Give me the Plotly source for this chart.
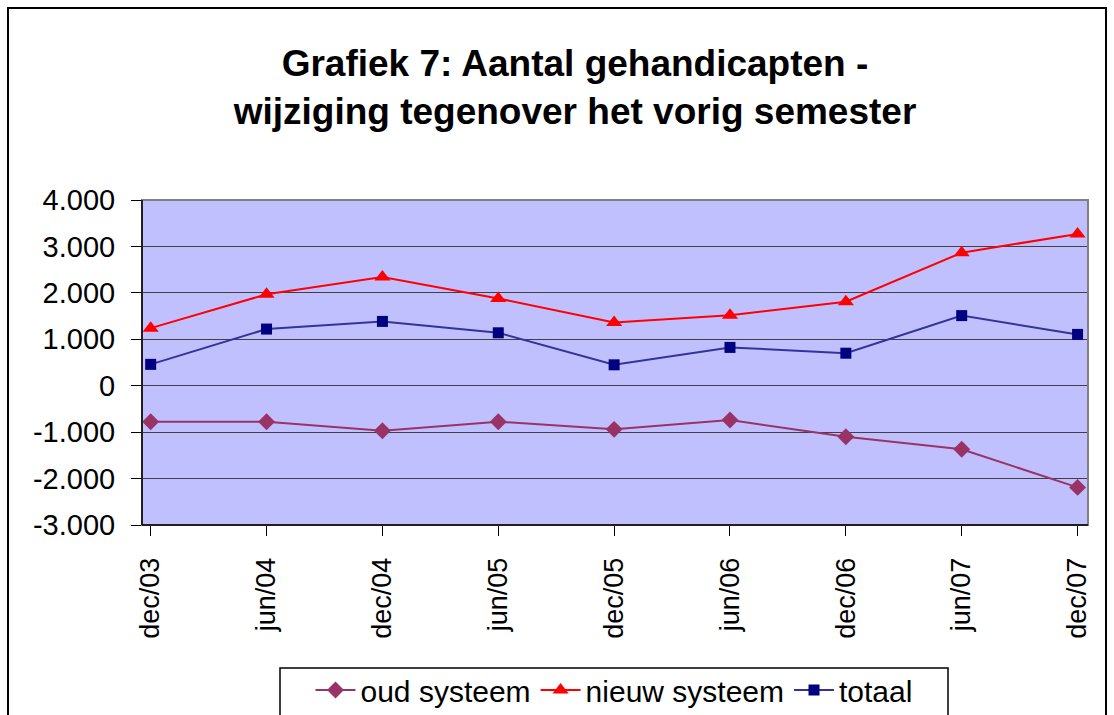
import plotly.graph_objects as go

categories = ["dec/03", "jun/04", "dec/04", "jun/05", "dec/05", "jun/06", "dec/06", "jun/07", "dec/07"]
oud_systeem = [-775, -775, -970, -775, -940, -740, -1100, -1370, -2190]
nieuw_systeem = [1240, 1970, 2340, 1880, 1360, 1520, 1810, 2865, 3270]
totaal = [460, 1220, 1385, 1140, 450, 825, 700, 1510, 1105]
y_ticks = [-3000, -2000, -1000, 0, 1000, 2000, 3000, 4000]
y_tick_labels = ["-3.000", "-2.000", "-1.000", "0", "1.000", "2.000", "3.000", "4.000"]

idx = list(range(len(categories)))

fig = go.Figure()
fig.add_trace(go.Scatter(x=idx, y=oud_systeem, name="oud systeem", mode="lines+markers",
                         line=dict(color="#993366", width=2),
                         marker=dict(symbol="diamond", size=13, color="#993366")))
fig.add_trace(go.Scatter(x=idx, y=nieuw_systeem, name="nieuw systeem", mode="lines+markers",
                         line=dict(color="#FF0000", width=2),
                         marker=dict(symbol="triangle-up", size=14, color="#FF0000")))
fig.add_trace(go.Scatter(x=idx, y=totaal, name="totaal", mode="lines+markers",
                         line=dict(color="#333399", width=2),
                         marker=dict(symbol="square", size=11, color="#000080")))

L, R, T, B = 142, 26, 200, 190
W, H = 1114, 715
pw, ph = W - L - R, H - T - B

fig.update_layout(
    width=W, height=H,
    margin=dict(l=L, r=R, t=T, b=B, pad=0),
    paper_bgcolor="white",
    plot_bgcolor="#C0C0FF",
    font=dict(family="Liberation Sans, Arial, sans-serif", color="black"),
    title=dict(text="<b>Grafiek 7: Aantal gehandicapten -<br>wijziging tegenover het vorig semester</b>",
               x=575 / W, xanchor="center", y=1 - 76 / H, yanchor="middle",
               font=dict(size=37, color="black")),
    showlegend=True,
    legend=dict(orientation="h", x=(614 - L) / pw, xanchor="center",
                yref="container", y=1 - 690 / H, yanchor="middle",
                borderwidth=0, bgcolor="rgba(0,0,0,0)",
                font=dict(size=30), itemwidth=40),
    xaxis=dict(range=[-0.075, 8.09], tickvals=idx, ticktext=categories,
               tickangle=-90, tickfont=dict(size=27),
               ticks="outside", ticklen=10, tickcolor="black",
               showgrid=False, zeroline=False, showline=False, automargin=False,
               ticklabelstandoff=11, fixedrange=True),
    yaxis=dict(range=[-3000, 4000], tickvals=y_ticks, ticktext=y_tick_labels,
               tickfont=dict(size=29),
               ticks="outside", ticklen=10, tickcolor="black",
               showgrid=True, gridcolor="#404040", gridwidth=1,
               zeroline=False, showline=False, automargin=False,
               ticklabelstandoff=10, fixedrange=True),
)

# plot area border (gray top/right) and black axes (left/bottom)
fig.add_shape(type="rect", xref="paper", yref="paper", x0=0, x1=1, y0=0, y1=1,
              line=dict(color="#808080", width=2), layer="above")
fig.add_shape(type="line", xref="paper", yref="paper", x0=0, x1=0, y0=0, y1=1,
              line=dict(color="black", width=1.5), layer="above")
fig.add_shape(type="line", xref="paper", yref="paper", x0=0, x1=1, y0=0, y1=0,
              line=dict(color="black", width=1.5), layer="above")
# outer chart border
fig.add_shape(type="rect", xref="paper", yref="paper",
              x0=(8 - L) / pw, x1=(1106 - L) / pw,
              y0=(H - B - 730) / ph, y1=(H - B - 8) / ph,
              line=dict(color="black", width=2), layer="below")
# legend box
fig.add_shape(type="rect", xref="paper", yref="paper",
              x0=(280 - L) / pw, x1=(948 - L) / pw,
              y0=(H - B - 730) / ph, y1=(H - B - 668) / ph,
              line=dict(color="black", width=1.5), fillcolor="white", layer="below")

fig.write_html("out.html", config={"displayModeBar": False},
               post_script="document.body.style.margin='0';")
